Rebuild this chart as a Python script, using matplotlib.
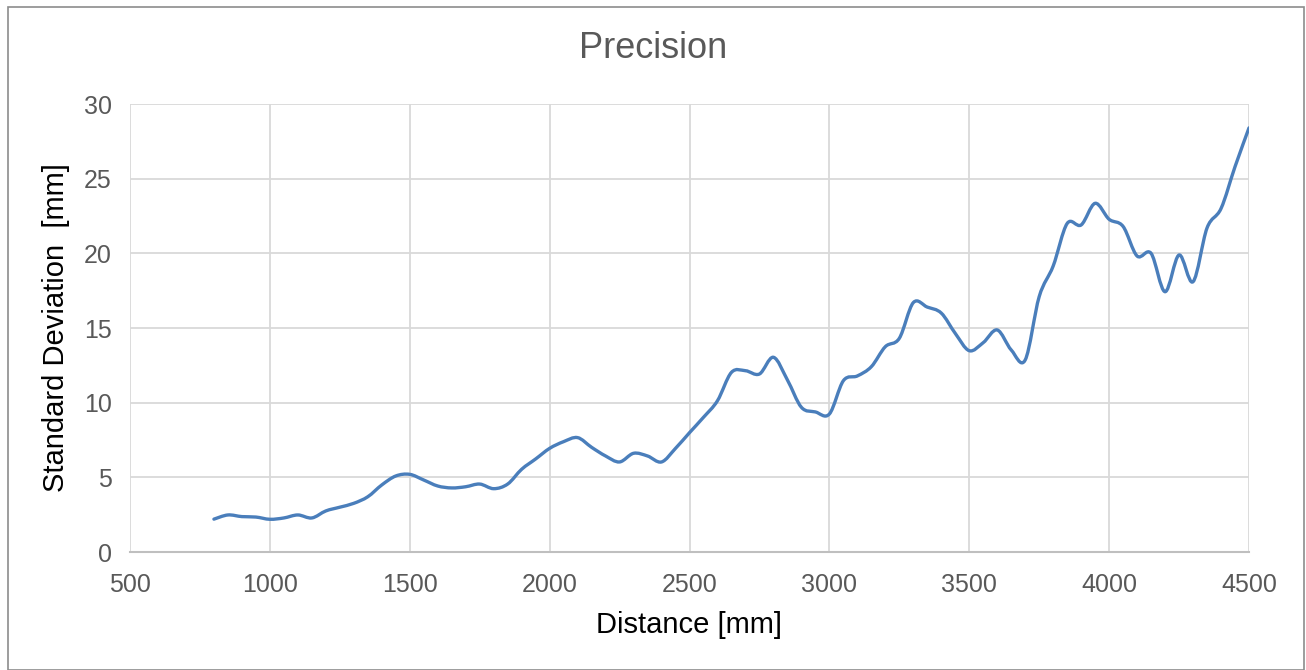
import matplotlib.pyplot as plt
from matplotlib.path import Path
from matplotlib.patches import PathPatch, Rectangle

distance = [800, 850, 900, 950, 1000, 1050, 1100, 1150, 1200, 1250,
            1300, 1350, 1400, 1450, 1500, 1550, 1600, 1650, 1700, 1750,
            1800, 1850, 1900, 1950, 2000, 2050, 2100, 2150, 2200, 2250,
            2300, 2350, 2400, 2450, 2500, 2550, 2600, 2650, 2700, 2750,
            2800, 2850, 2900, 2950, 3000, 3050, 3100, 3150, 3200, 3250,
            3300, 3350, 3400, 3450, 3500, 3550, 3600, 3650, 3700, 3750,
            3800, 3850, 3900, 3950, 4000, 4050, 4100, 4150, 4200, 4250,
            4300, 4350, 4400, 4450, 4500]
std_dev = [2.2, 2.48, 2.37, 2.34, 2.19, 2.28, 2.48, 2.28, 2.75, 3.0,
           3.26, 3.7, 4.49, 5.09, 5.2, 4.82, 4.42, 4.29, 4.37, 4.55,
           4.24, 4.55, 5.54, 6.23, 6.94, 7.39, 7.66, 7.01, 6.43, 6.03,
           6.61, 6.43, 6.03, 6.94, 7.99, 9.02, 10.13, 12.03, 12.14, 11.92,
           13.04, 11.52, 9.69, 9.38, 9.24, 11.47, 11.79, 12.41, 13.75, 14.31,
           16.7, 16.4, 16.0, 14.64, 13.48, 14.02, 14.87, 13.53, 12.86, 17.1,
           19.15, 22.0, 21.9, 23.35, 22.28, 21.8, 19.82, 20.0, 17.43, 19.89,
           18.1, 21.7, 23.0, 25.8, 28.4]

x_ticks = [500, 1000, 1500, 2000, 2500, 3000, 3500, 4000, 4500]
y_ticks = [0, 5, 10, 15, 20, 25, 30]

plt.rcParams['font.family'] = ['Liberation Sans', 'DejaVu Sans']

fig = plt.figure(figsize=(13.06, 6.7), dpi=100)
ax = fig.add_axes([130 / 1306, 1 - 552 / 670, 1119 / 1306, 448 / 670])

# smooth line like Excel: catmull-rom segments as cubic beziers
verts = [(distance[0], std_dev[0])]
codes = [Path.MOVETO]
n = len(distance)
for i in range(n - 1):
    p0 = (distance[max(i - 1, 0)], std_dev[max(i - 1, 0)])
    p1 = (distance[i], std_dev[i])
    p2 = (distance[i + 1], std_dev[i + 1])
    p3 = (distance[min(i + 2, n - 1)], std_dev[min(i + 2, n - 1)])
    c1 = (p1[0] + (p2[0] - p0[0]) / 6, p1[1] + (p2[1] - p0[1]) / 6)
    c2 = (p2[0] - (p3[0] - p1[0]) / 6, p2[1] - (p3[1] - p1[1]) / 6)
    verts += [c1, c2, p2]
    codes += [Path.CURVE4] * 3
ax.add_patch(PathPatch(Path(verts, codes), fill=False, edgecolor='#4a7ebb',
                       linewidth=2.4, capstyle='round', joinstyle='round',
                       zorder=3))

ax.set_xlim(500, 4500)
ax.set_ylim(0, 30)
ax.set_xticks(x_ticks)
ax.set_yticks(y_ticks)
ax.grid(True, color='#d9d9d9', linewidth=1.3)
ax.set_axisbelow(True)
for s in ['top', 'right', 'left']:
    ax.spines[s].set_visible(False)
ax.spines['bottom'].set_color('#bfbfbf')
ax.spines['bottom'].set_linewidth(1.5)
ax.tick_params(length=0, labelsize=18, labelcolor='#595959')
ax.tick_params(axis='x', pad=15)
ax.tick_params(axis='y', pad=13)

fig.text(653 / 1306, 1 - 48 / 670, 'Precision', fontsize=26, color='#595959',
         ha='center', va='center')
ax.set_xlabel('Distance [mm]', fontsize=21, color='black', labelpad=10)
ax.set_ylabel('Standard Deviation  [mm]', fontsize=21, color='black', labelpad=10)

# chart frame
fig.patches.append(Rectangle((8 / 1306, 0), 1296 / 1306, 663 / 670, transform=fig.transFigure,
                             fill=False, edgecolor='#8c8c8c', linewidth=1.2))

fig.savefig('out.png', dpi=100)
